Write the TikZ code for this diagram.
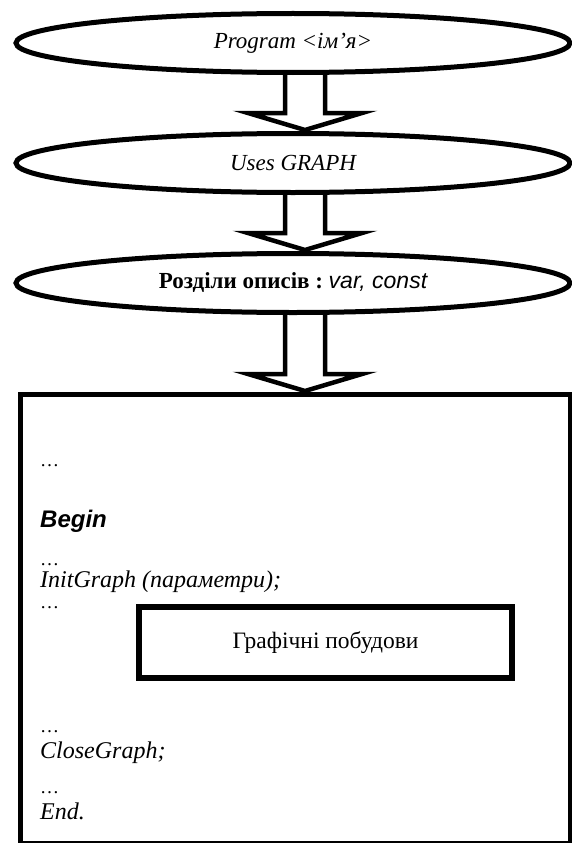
\documentclass[tikz,border=0pt]{standalone}
\usepackage{fontspec}
\setmainfont{Liberation Serif}
\newfontfamily\sansf{Liberation Sans}
\usetikzlibrary{shapes.geometric,calc}
\begin{document}
\begin{tikzpicture}[x=1pt,y=-1pt,
  oval/.style={ellipse, draw, line width=5pt, minimum width=554pt, minimum height=59pt, inner sep=0pt, font=\fontsize{23}{27}\selectfont},
  bigbox/.style={draw, line width=5pt, anchor=north west, inner sep=0pt, minimum width=550pt, minimum height=449pt},
  innerbox/.style={draw, line width=6pt, inner sep=0pt, minimum width=373pt, minimum height=71pt, font=\fontsize{23.5}{27}\selectfont},
  code/.style={anchor=base west, inner sep=0pt, font=\fontsize{24}{28}\selectfont\itshape},
  dots/.style={anchor=base west, inner sep=0pt, font=\fontsize{19}{22}\selectfont},
  blockarrow/.style={draw, line width=4.5pt, line join=miter}]
\useasboundingbox (0,0) rectangle (572,843);
% ovals
\node[oval] (e1) at (293,43) {\itshape Program <ім’я>};
\node[oval] (e2) at (293,163) {\itshape Uses GRAPH};
\node[oval] (e3) at (293,283) {\bfseries Розділи описів :\mdseries\ {\sansf\itshape var, const}};
% main box
\node[bigbox] (main) at (18,392) {};
\node[innerbox] (gb) at (325.5,642.5) {Графічні побудови};
% block arrows
\foreach \a/\b in {e1/e2, e2/e3, e3/main}{
  \draw[blockarrow] let \p1=(\a.south), \p2=(\b.north) in
    ({285pt},{\y1}) -- ({285pt},{\y2+18pt}) -- ({248pt},{\y2+18pt}) -- ({305pt},{\y2+1pt})
    -- ({362pt},{\y2+18pt}) -- ({325pt},{\y2+18pt}) -- ({325pt},{\y1});
}
% code lines
\node[dots] (d1) at (40,466) {…};
\node[code] (bg) at (40,527) {\sansf\bfseries\itshape Begin};
\node[dots] (d2) at (40,565) {…};
\node[code] (ig) at (40,587) {InitGraph (параметри);};
\node[dots] (d3) at (40,608) {…};
\node[dots] (d4) at (40,732) {…};
\node[code] (cg) at (40,758) {CloseGraph;};
\node[dots] (d5) at (40,793) {…};
\node[code] (en) at (40,819) {End.};
\end{tikzpicture}
\end{document}
